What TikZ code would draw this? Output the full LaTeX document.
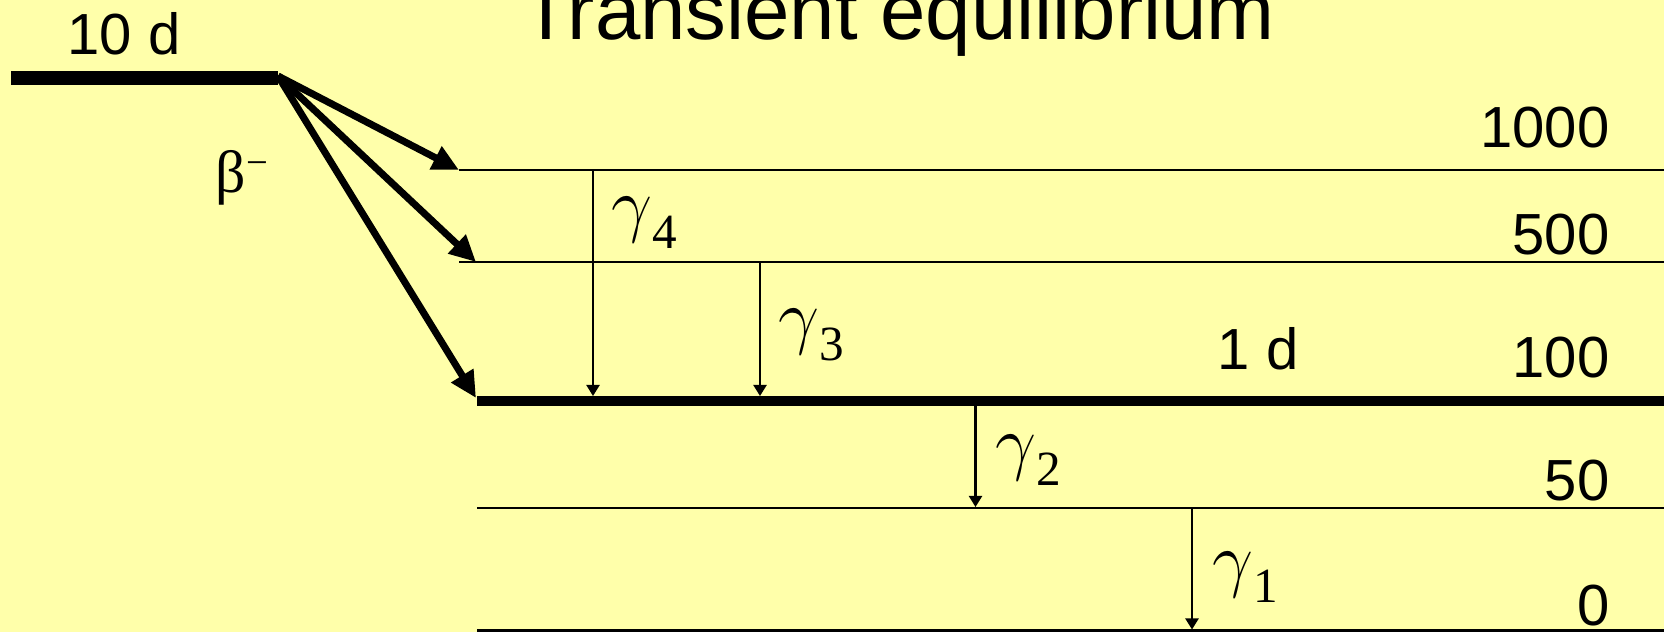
\documentclass[tikz,border=0pt]{standalone}
\usepackage{fontspec}
\setmainfont{Liberation Sans}
\newfontfamily\greekfont{Liberation Serif}
\usetikzlibrary{arrows.meta}
\definecolor{slidebg}{RGB}{255,255,170}
\newcommand{\gamlab}[1]{{\fontsize{20}{20}\selectfont$\gamma$\raisebox{-5.5pt}{\greekfont\fontsize{14}{14}\selectfont #1}}}

\begin{document}
\begin{tikzpicture}[x=0.1mm,y=-0.1mm,
  level/.style={line width=0.6pt},
  mainlevel/.style={line width=3.1pt},
  parentlevel/.style={line width=4pt},
  betaarrow/.style={-{Triangle[length=7.5pt,width=7pt]},line width=2pt},
  gammaarrow/.style={-{Triangle[length=3.2pt,width=3.8pt]},line width=0.6pt},
  num/.style={anchor=base east,inner sep=0pt,font=\fontsize{16.5}{16.5}\selectfont},
  txt/.style={anchor=base west,inner sep=0pt,font=\fontsize{16.5}{16.5}\selectfont},
  lab/.style={anchor=base west,inner sep=0pt}]
\fill[slidebg] (0,0) rectangle (1664,632);
\useasboundingbox (0,0) rectangle (1664,632);
\coordinate (Pa) at (11,78);
\coordinate (Pb) at (278,78);
\coordinate (Pc) at (278,76);
\coordinate (Ea) at (459,170);
\coordinate (Eb) at (1664,170);
\coordinate (Da) at (459,262);
\coordinate (Db) at (1664,262);
\coordinate (Dt) at (476,262);
\coordinate (Ca) at (477,401);
\coordinate (Cb) at (1664,401);
\coordinate (Ct) at (476,398);
\coordinate (Ba) at (477,508);
\coordinate (Bb) at (1664,508);
\coordinate (Aa) at (477,630.5);
\coordinate (Ab) at (1664,630.5);
\draw[parentlevel] (Pa) -- (Pb);
\draw[level] (Ea) -- (Eb);
\draw[level] (Da) -- (Db);
\draw[mainlevel] (Ca) -- (Cb);
\draw[level] (Ba) -- (Bb);
\draw[level] (Aa) -- (Ab);
\draw[betaarrow] (Pc) -- (Ea);
\draw[betaarrow] (Pc) -- (Dt);
\draw[betaarrow] (Pc) -- (Ct);
\coordinate (g4s) at (593,170);
\coordinate (g4e) at (593,396);
\coordinate (g3s) at (760,262);
\coordinate (g3e) at (760,396);
\coordinate (g2s) at (975.5,406);
\coordinate (g2e) at (975.5,507);
\coordinate (g1s) at (1192,508);
\coordinate (g1e) at (1192,629.5);
\draw[gammaarrow] (g4s) -- (g4e);
\draw[gammaarrow] (g3s) -- (g3e);
\draw[gammaarrow] (g2s) -- (g2e);
\draw[gammaarrow] (g1s) -- (g1e);
\node[anchor=base,inner sep=0pt,font=\fontsize{23.2}{23.2}\selectfont] (title) at (898,40) {Transient equilibrium};
\node[txt] (tparent) at (67,55) {10 d};
\node[txt] (tdaughter) at (1217,370) {1 d};
\node[lab] (beta) at (215,193) {\greekfont\fontsize{17}{17}\selectfont β\raisebox{5pt}{\fontsize{11}{11}\selectfont −}};
\node[num] (e1000) at (1610,148) {1000};
\node[num] (e500) at (1610,255) {500};
\node[num] (e100) at (1610,378) {100};
\node[num] (e50) at (1610,500) {50};
\node[num] (e0) at (1610,625) {0};
\node[lab] (gam4) at (611,229) {\gamlab{4}};
\node[lab] (gam3) at (778,341) {\gamlab{3}};
\node[lab] (gam2) at (995,466) {\gamlab{2}};
\node[lab] (gam1) at (1212,583) {\gamlab{1}};
\end{tikzpicture}
\end{document}
